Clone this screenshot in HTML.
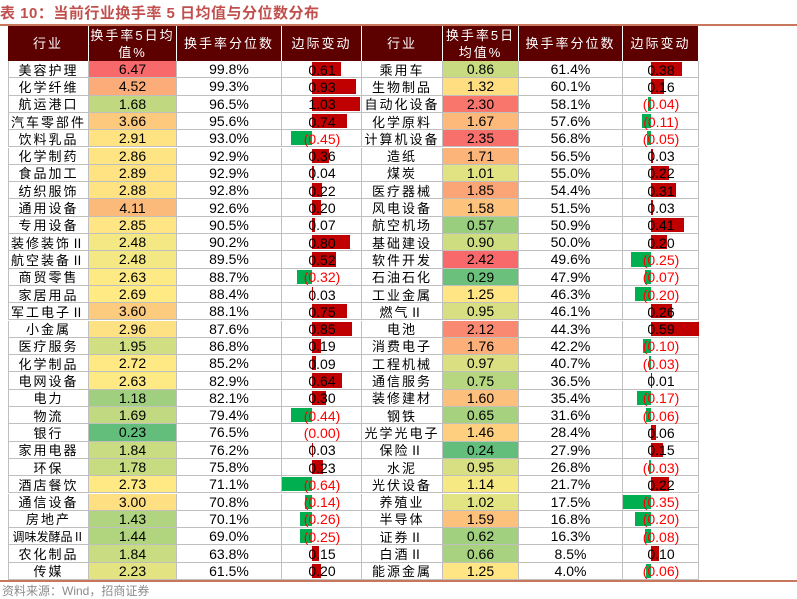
<!DOCTYPE html>
<html><head><meta charset="utf-8">
<style>
body{margin:0;width:797px;height:599px;background:#fff;position:relative;overflow:hidden;font-family:"Liberation Sans","Noto Sans CJK SC",sans-serif;}
.abs{position:absolute;}
#title{left:0;top:2px;font-size:15px;font-weight:bold;color:#c0504d;letter-spacing:0.5px;}
.hline{left:0;width:797px;height:2px;background:#c8775c;}
.hdr{background:#5c0000;color:#fff;font-size:13px;display:flex;align-items:center;justify-content:center;text-align:center;line-height:17px;letter-spacing:2px;box-sizing:border-box;border-right:1px solid #fff;}
.cell{font-size:14px;display:flex;align-items:center;justify-content:center;box-sizing:border-box;border-bottom:1px solid #bfbfbf;border-right:1px solid #bfbfbf;color:#000;white-space:nowrap;}
.name{letter-spacing:2px;font-size:13px;}
.bar{height:15px;}
.neg{color:#ff0000;}
#src{left:2px;top:582px;font-size:12px;color:#8c8c8c;}
</style></head><body>
<div id="title" class="abs">表 10：当前行业换手率 5 日均值与分位数分布</div>
<div class="abs hline" style="top:24px"></div>
<div id="tbl" class="abs" style="left:0;top:0"></div>
<div class="abs hline" style="top:580px"></div>
<div id="src" class="abs">资料来源：Wind，招商证券</div>
<script>
const leftNames=["美容护理","化学纤维","航运港口","汽车零部件","饮料乳品","化学制药","食品加工","纺织服饰","通用设备","专用设备","装修装饰Ⅱ","航空装备Ⅱ","商贸零售","家居用品","军工电子Ⅱ","小金属","医疗服务","化学制品","电网设备","电力","物流","银行","家用电器","环保","酒店餐饮","通信设备","房地产","调味发酵品Ⅱ","农化制品","传媒"];
const leftAvg=[6.47,4.52,1.68,3.66,2.91,2.86,2.89,2.88,4.11,2.85,2.48,2.48,2.63,2.69,3.60,2.96,1.95,2.72,2.63,1.18,1.69,0.23,1.84,1.78,2.73,3.00,1.43,1.44,1.84,2.23];
const leftPct=[99.8,99.3,96.5,95.6,93.0,92.9,92.9,92.8,92.6,90.5,90.2,89.5,88.7,88.4,88.1,87.6,86.8,85.2,82.9,82.1,79.4,76.5,76.2,75.8,71.1,70.8,70.1,69.0,63.8,61.5];
const leftChg=[0.61,0.93,1.03,0.74,-0.45,0.36,0.04,0.22,0.20,0.07,0.80,0.52,-0.32,0.03,0.75,0.85,0.19,0.09,0.64,0.30,-0.44,-0.001,0.03,0.23,-0.64,-0.14,-0.26,-0.25,0.15,0.20];
const rightNames=["乘用车","生物制品","自动化设备","化学原料","计算机设备","造纸","煤炭","医疗器械","风电设备","航空机场","基础建设","软件开发","石油石化","工业金属","燃气Ⅱ","电池","消费电子","工程机械","通信服务","装修建材","钢铁","光学光电子","保险Ⅱ","水泥","光伏设备","养殖业","半导体","证券Ⅱ","白酒Ⅱ","能源金属"];
const rightAvg=[0.86,1.32,2.30,1.67,2.35,1.71,1.01,1.85,1.58,0.57,0.90,2.42,0.29,1.25,0.95,2.12,1.76,0.97,0.75,1.60,0.65,1.46,0.24,0.95,1.14,1.02,1.59,0.62,0.66,1.25];
const rightPct=[61.4,60.1,58.1,57.6,56.8,56.5,55.0,54.4,51.5,50.9,50.0,49.6,47.9,46.3,46.1,44.3,42.2,40.7,36.5,35.4,31.6,28.4,27.9,26.8,21.7,17.5,16.8,16.3,8.5,4.0];
const rightChg=[0.38,0.16,-0.04,-0.11,-0.05,0.03,0.22,0.31,0.03,0.41,0.20,-0.25,-0.07,-0.20,0.26,0.59,-0.10,-0.03,0.01,-0.17,-0.06,0.06,0.15,-0.03,0.22,-0.35,-0.20,-0.08,0.10,-0.06];
const headers=["行业","换手率5日均值%","换手率分位数","边际变动"];

const T=document.getElementById('tbl');
const TOP=26,HH=35,RH=(580-61)/30;
function mix(a,b,t){return a.map((v,i)=>Math.round(v+(b[i]-v)*t));}
function scaleColor(v,arr){
  const s=[...arr].sort((a,b)=>a-b);const mn=s[0],mx=s[s.length-1];
  const md=(s[14]+s[15])/2;
  const G=[99,190,123],Y=[255,235,132],R=[248,105,107];
  let c=v<=md?mix(G,Y,(v-mn)/(md-mn||1)):mix(Y,R,(v-md)/(mx-md||1));
  return `rgb(${c[0]},${c[1]},${c[2]})`;
}
function box(x,y,w,h,cls){const d=document.createElement('div');d.className='abs '+cls;d.style.left=x+'px';d.style.top=y+'px';d.style.width=w+'px';d.style.height=h+'px';T.appendChild(d);return d;}
function fmt(v){const a=Math.abs(v).toFixed(2);return v<0?'('+a+')':a;}
function drawTable(cols,names,avg,pct,chg,zeroX,unit,side){
  const hdrTxt=[headers[0],side==='left'?'换手率5日均<br>值%':'换手率5日<br>均值%',headers[2],headers[3]];
  for(let c=0;c<4;c++){
    const h=box(cols[c],TOP,cols[c+1]-cols[c],HH,'hdr');h.innerHTML=hdrTxt[c];
    
    
  }
  for(let i=0;i<names.length;i++){
    const y=TOP+HH+i*RH;
    const n=box(cols[0],y,cols[1]-cols[0],RH,'cell name');n.textContent=names[i];
    if(names[i].length>=6){n.style.letterSpacing='0px';n.style.fontSize='12px';}
    
    
    if(side==='left')n.style.borderLeft='1px solid #bfbfbf';
    const a=box(cols[1],y,cols[2]-cols[1],RH,'cell');a.textContent=avg[i].toFixed(2);a.style.background=scaleColor(avg[i],avg);
    
    
    const p=box(cols[2],y,cols[3]-cols[2],RH,'cell');p.textContent=pct[i].toFixed(1)+'%';
    
    
    const ch=box(cols[3],y,cols[4]-cols[3],RH,'cell');
    
    
    const v=chg[i],w=Math.abs(v)*unit;
    const b=box(v>=0?zeroX:zeroX-w,y+1,w,RH-3,'bar');b.style.background=v>=0?'#c00000':'#00b050';
    
    
    const t=box(cols[3],y,cols[4]-cols[3],RH,'cell');t.style.border='none';t.textContent=fmt(v);if(v<0)t.classList.add('neg');
    
    
  }
}
drawTable([8,89,177,282,362],leftNames,leftAvg,leftPct,leftChg,312,47,'left');
drawTable([362,443,519,623,699],rightNames,rightAvg,rightPct,rightChg,651,81,'right');
</script>
</body></html>
